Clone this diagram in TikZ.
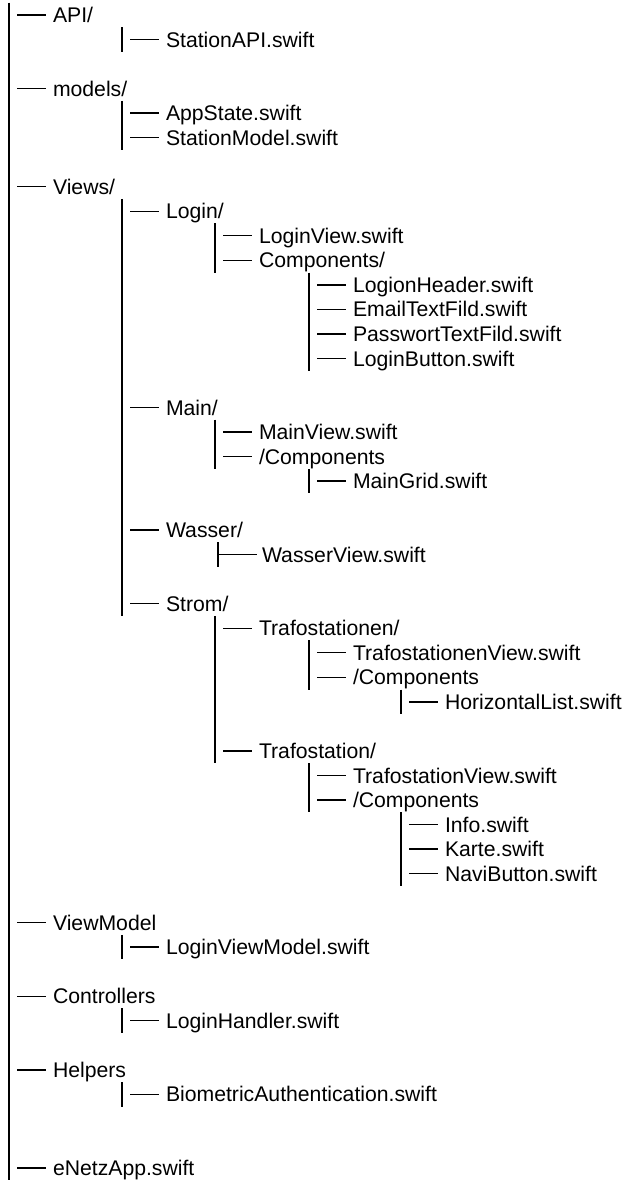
\documentclass[tikz,border=0pt]{standalone}
\usepackage{fontspec}
\setmainfont{Liberation Sans}
\usetikzlibrary{calc}
\tikzset{
  item/.style={anchor=base west, inner sep=0pt, outer sep=0pt, font=\fontsize{21.2}{24}\selectfont},
  dashline/.style={line width=1.4pt, line cap=butt},
  barline/.style={line width=1.8pt, line cap=butt}
}
% #1 name, #2 text x, #3 line index, #4 text
\newcommand\treeentry[4]{%
  \node[item] (#1) at (#2, {22.6+24.53*#3}) {#4};
  \draw[dashline] ($(#1.base west)+(-36,-7.6)$) coordinate (#1-a) -- ($(#1.base west)+(-7,-7.6)$) coordinate (#1-b);
}
% #1 name, #2 x, #3 first line, #4 last line
\newcommand\treebar[4]{%
  \coordinate (#1-top) at (#2, {15+24.53*#3-12.3});
  \coordinate (#1-bot) at (#2, {15+24.53*#4+12.3});
  \draw[barline] (#1-top) -- (#1-bot);
}
\begin{document}
\begin{tikzpicture}[x=1pt, y=-1pt]
\useasboundingbox (0,0) rectangle (630,1180);
% root
\treebar{root}{9}{0}{47.2}
\treeentry{api}{53}{0}{API/}
\treebar{gapi}{122}{1}{1}
\treeentry{stationapi}{166}{1}{StationAPI.swift}
\treeentry{models}{53}{3}{models/}
\treebar{gmodels}{122}{4}{5}
\treeentry{appstate}{166}{4}{AppState.swift}
\treeentry{stationmodel}{166}{5}{StationModel.swift}
\treeentry{views}{53}{7}{Views/}
\treebar{gviews}{122}{8}{24}
\treeentry{login}{166}{8}{Login/}
\treebar{glogin}{215}{9}{10}
\treeentry{loginview}{259}{9}{LoginView.swift}
\treeentry{logincomp}{259}{10}{Components/}
\treebar{glogincomp}{309}{11}{14}
\treeentry{logionheader}{353}{11}{LogionHeader.swift}
\treeentry{email}{353}{12}{EmailTextFild.swift}
\treeentry{passwort}{353}{13}{PasswortTextFild.swift}
\treeentry{loginbutton}{353}{14}{LoginButton.swift}
\treeentry{main}{166}{16}{Main/}
\treebar{gmain}{215}{17}{18}
\treeentry{mainview}{259}{17}{MainView.swift}
\treeentry{maincomp}{259}{18}{/Components}
\treebar{gmaincomp}{309}{19}{19}
\treeentry{maingrid}{353}{19}{MainGrid.swift}
\treeentry{wasser}{166}{21}{Wasser/}
% Wasser child drawn with a tee
\node[item] (wasserview) at (262, {22.6+24.53*22}) {WasserView.swift};
\treebar{gwasser}{218}{22}{22}
\draw[dashline] (gwasser-top |- {$(wasserview.base west)+(0,-7.6)$}) -- ($(wasserview.base west)+(-5,-7.6)$);
\treeentry{strom}{166}{24}{Strom/}
\treebar{gstrom}{215}{25}{30}
\treeentry{trafos}{259}{25}{Trafostationen/}
\treebar{gtrafos}{309}{26}{27}
\treeentry{trafosview}{353}{26}{TrafostationenView.swift}
\treeentry{trafoscomp}{353}{27}{/Components}
\treebar{gtrafoscomp}{401}{28}{28}
\treeentry{horizontal}{445}{28}{HorizontalList.swift}
\treeentry{trafo}{259}{30}{Trafostation/}
\treebar{gtrafo}{309}{31}{32}
\treeentry{trafoview}{353}{31}{TrafostationView.swift}
\treeentry{trafocomp}{353}{32}{/Components}
\treebar{gtrafocomp}{401}{33}{35}
\treeentry{info}{445}{33}{Info.swift}
\treeentry{karte}{445}{34}{Karte.swift}
\treeentry{navi}{445}{35}{NaviButton.swift}
\treeentry{viewmodel}{53}{37}{ViewModel}
\treebar{gviewmodel}{122}{38}{38}
\treeentry{loginviewmodel}{166}{38}{LoginViewModel.swift}
\treeentry{controllers}{53}{40}{Controllers}
\treebar{gcontrollers}{122}{41}{41}
\treeentry{loginhandler}{166}{41}{LoginHandler.swift}
\treeentry{helpers}{53}{43}{Helpers}
\treebar{ghelpers}{122}{44}{44}
\treeentry{biometric}{166}{44}{BiometricAuthentication.swift}
\treeentry{enetz}{53}{47}{eNetzApp.swift}
\end{tikzpicture}
\end{document}
